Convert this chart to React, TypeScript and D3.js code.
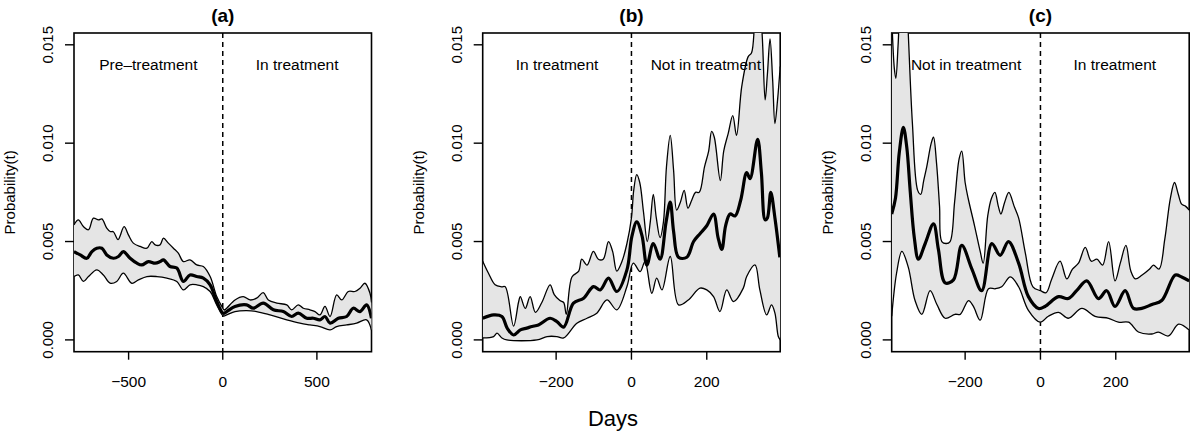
import React from 'react';
import * as d3 from 'd3';

type Pt = [number, number];

// ---------- data (day, probability) ----------
const aUpper: Pt[] = [
  [-790, 0.00585], [-767, 0.0061], [-740, 0.00576], [-713, 0.0056], [-687, 0.00619], [-660, 0.0061], [-642, 0.00615],
  [-616, 0.00568], [-598, 0.00551], [-581, 0.0055], [-556, 0.0051], [-524, 0.00576], [-501, 0.00534], [-475, 0.00492],
  [-439, 0.00475], [-403, 0.00466], [-377, 0.005], [-359, 0.00483], [-333, 0.00483], [-315, 0.00517], [-289, 0.00492],
  [-262, 0.00466], [-236, 0.00441], [-209, 0.00398], [-174, 0.00407], [-138, 0.00381], [-103, 0.00373], [-67, 0.00322],
  [-32, 0.0022], [-5, 0.0017], [8, 0.00152], [21, 0.00161], [65, 0.00203], [109, 0.0022], [145, 0.00203], [180, 0.00212],
  [215, 0.0024], [242, 0.00203], [287, 0.00187], [340, 0.00178], [366, 0.00153], [401, 0.00178], [428, 0.00161],
  [463, 0.00153], [490, 0.00144], [516, 0.00127], [543, 0.0017], [570, 0.00119], [605, 0.00229], [632, 0.00203],
  [667, 0.00246], [702, 0.00246], [729, 0.00263], [755, 0.00288], [782, 0.00237], [790, 0.0019],
];
const aMean: Pt[] = [
  [-790, 0.00449], [-757, 0.00432], [-722, 0.00415], [-695, 0.00449], [-669, 0.00466], [-642, 0.00466], [-616, 0.00432],
  [-581, 0.00415], [-554, 0.00424], [-528, 0.00449], [-492, 0.00415], [-456, 0.0039], [-430, 0.00381], [-395, 0.00398],
  [-359, 0.0039], [-333, 0.00398], [-315, 0.00407], [-280, 0.00373], [-244, 0.00365], [-209, 0.00297], [-174, 0.0033],
  [-138, 0.00322], [-103, 0.00314], [-67, 0.0028], [-32, 0.00195], [3, 0.00135], [21, 0.00144], [65, 0.0017],
  [127, 0.00178], [162, 0.00161], [215, 0.00187], [269, 0.00153], [322, 0.00144], [366, 0.00119], [401, 0.00136],
  [446, 0.0011], [481, 0.0011], [516, 0.00102], [543, 0.00119], [570, 0.00085], [614, 0.0011], [658, 0.00119],
  [693, 0.00161], [729, 0.00144], [764, 0.00178], [790, 0.0011],
];
const aLower: Pt[] = [
  [-790, 0.00322], [-767, 0.0033], [-740, 0.00297], [-713, 0.00322], [-669, 0.00356], [-634, 0.0033], [-598, 0.00288],
  [-563, 0.00297], [-528, 0.00339], [-483, 0.00288], [-448, 0.00305], [-403, 0.00322], [-350, 0.00322], [-297, 0.00314],
  [-244, 0.00297], [-209, 0.00254], [-174, 0.0028], [-138, 0.0028], [-103, 0.00271], [-67, 0.00246], [-32, 0.00178],
  [3, 0.00122], [21, 0.00127], [65, 0.00144], [127, 0.00149], [180, 0.00144], [251, 0.00127], [340, 0.00102],
  [410, 0.00085], [463, 0.00076], [516, 0.00068], [570, 0.00051], [605, 0.00068], [658, 0.00076], [711, 0.00085],
  [764, 0.00102], [790, 0.0005],
];

const bUpper: Pt[] = [
  [-395, 0.004], [-380, 0.0034], [-362, 0.0028], [-345, 0.0027], [-335, 0.0027], [-313, 0.0007], [-300, 0.0019],
  [-295, 0.0022], [-282, 0.0016], [-269, 0.0022], [-255, 0.0014], [-238, 0.0019], [-216, 0.0028], [-205, 0.0023],
  [-190, 0.002], [-180, 0.0019], [-173, 0.0013], [-158, 0.0032], [-140, 0.0035], [-132, 0.0041], [-118, 0.0038],
  [-101, 0.0045], [-88, 0.0041], [-75, 0.0041], [-61, 0.005], [-50, 0.0045], [-39, 0.0035], [-25, 0.004],
  [-12, 0.0049], [0, 0.0062], [6, 0.0076], [14, 0.0084], [22, 0.008], [32, 0.0065], [42, 0.005], [50, 0.006],
  [58, 0.0074], [66, 0.0062], [76, 0.0052], [85, 0.006], [93, 0.0088], [103, 0.0104], [112, 0.0086], [120, 0.0066],
  [130, 0.007], [140, 0.0076], [150, 0.0067], [160, 0.0071], [170, 0.0075], [180, 0.0075], [194, 0.0088],
  [205, 0.0096], [213, 0.0106], [220, 0.0103], [236, 0.0081], [245, 0.0096], [257, 0.0105], [269, 0.0114],
  [279, 0.0104], [293, 0.0129], [310, 0.0144], [319, 0.0146], [328, 0.0162], [337, 0.017], [346, 0.0158],
  [355, 0.0122], [361, 0.0135], [368, 0.0153], [375, 0.0132], [381, 0.011], [388, 0.0122], [395, 0.0139],
];
const bMean: Pt[] = [
  [-395, 0.0011], [-366, 0.00127], [-344, 0.00119], [-330, 0.0006], [-313, 0.00025], [-295, 0.00051], [-278, 0.0006],
  [-264, 0.00068], [-247, 0.00076], [-216, 0.0011], [-198, 0.00093], [-180, 0.00065], [-154, 0.00187], [-127, 0.00212],
  [-101, 0.00271], [-83, 0.00254], [-61, 0.00314], [-39, 0.00246], [-12, 0.00356], [1, 0.00525], [14, 0.006],
  [28, 0.0053], [41, 0.0038], [58, 0.0049], [76, 0.0041], [92, 0.006], [103, 0.007], [112, 0.0055], [125, 0.0042],
  [147, 0.0042], [165, 0.005], [182, 0.0054], [200, 0.0058], [218, 0.0064], [230, 0.0052], [240, 0.0046],
  [250, 0.0058], [262, 0.0064], [275, 0.0063], [290, 0.0071], [306, 0.0085], [315, 0.0082], [335, 0.0102],
  [345, 0.0085], [355, 0.0061], [361, 0.0062], [370, 0.0075], [381, 0.0062], [394, 0.0042],
];
const bLower: Pt[] = [
  [-395, 0.0001], [-366, 0.00017], [-357, 0.00034], [-344, 0.0001], [-331, 0.0], [-251, 0.0], [-224, 0.00017],
  [-198, 0.00017], [-180, 0.0001], [-145, 0.00085], [-118, 0.0011], [-92, 0.00136], [-65, 0.00203], [-39, 0.00153],
  [-12, 0.00271], [5, 0.0039], [23, 0.00347], [36, 0.00398], [54, 0.00237], [67, 0.00314], [81, 0.00254],
  [103, 0.00424], [125, 0.00178], [151, 0.00203], [182, 0.00263], [200, 0.00254], [218, 0.0022], [235, 0.00144],
  [253, 0.00254], [271, 0.00195], [297, 0.00263], [306, 0.00322], [328, 0.00381], [341, 0.00254], [359, 0.00127],
  [372, 0.00178], [381, 0.00136], [390, 0.00017], [395, 0.0],
];

const cUpper: Pt[] = [
  [-395, 0.0165], [-388, 0.0138], [-384, 0.0133], [-378, 0.015], [-370, 0.018], [-360, 0.019], [-352, 0.016],
  [-340, 0.011], [-326, 0.0076], [-318, 0.0074], [-310, 0.0081], [-302, 0.0088], [-290, 0.01], [-284, 0.0103],
  [-276, 0.009], [-268, 0.0068], [-262, 0.005], [-250, 0.0049], [-240, 0.005], [-228, 0.007], [-216, 0.0092],
  [-209, 0.0096], [-200, 0.008], [-192, 0.0072], [-175, 0.0058], [-160, 0.0045], [-152, 0.0039], [-140, 0.0063],
  [-130, 0.0072], [-121, 0.0075], [-112, 0.0068], [-105, 0.0064], [-95, 0.007], [-84, 0.0075], [-70, 0.0068],
  [-58, 0.0062], [-40, 0.0044], [-20, 0.0027], [0, 0.0025], [15, 0.0024], [30, 0.0031], [52, 0.004], [70, 0.0031],
  [85, 0.0036], [101, 0.0039], [119, 0.0047], [135, 0.004], [150, 0.0041], [165, 0.0038], [181, 0.005],
  [198, 0.003], [212, 0.0039], [227, 0.0048], [240, 0.0035], [252, 0.0031], [270, 0.0033], [290, 0.0036],
  [300, 0.0038], [315, 0.0036], [330, 0.0051], [345, 0.0072], [356, 0.008], [366, 0.0074], [375, 0.0069],
  [385, 0.0068], [395, 0.0066],
];
const cMean: Pt[] = [
  [-395, 0.0064], [-385, 0.0072], [-375, 0.0095], [-364, 0.0108], [-355, 0.0098], [-346, 0.0076], [-335, 0.0052],
  [-324, 0.0041], [-306, 0.0049], [-284, 0.0059], [-271, 0.0046], [-253, 0.0029], [-231, 0.00305], [-209, 0.0048],
  [-182, 0.0036], [-156, 0.0025], [-129, 0.0049], [-107, 0.0043], [-85, 0.005], [-58, 0.0039], [-32, 0.0022],
  [-5, 0.0016], [12, 0.0017], [48, 0.0022], [74, 0.0021], [96, 0.0025], [123, 0.003], [154, 0.0021], [176, 0.0025],
  [198, 0.0017], [225, 0.0025], [247, 0.0016], [269, 0.0016], [296, 0.0018], [322, 0.002], [358, 0.0033],
  [375, 0.0032], [395, 0.003],
];
const cLower: Pt[] = [
  [-395, 0.0012], [-382, 0.0034], [-368, 0.0045], [-351, 0.0037], [-333, 0.002], [-315, 0.0013], [-293, 0.0025],
  [-275, 0.0018], [-253, 0.0011], [-227, 0.0013], [-213, 0.0013], [-191, 0.002], [-178, 0.0017], [-160, 0.001],
  [-138, 0.0026], [-120, 0.0026], [-103, 0.0027], [-80, 0.0032], [-58, 0.0027], [-32, 0.0015], [-1, 0.0009],
  [21, 0.0012], [48, 0.0014], [74, 0.0011], [110, 0.0016], [145, 0.0012], [181, 0.0011], [207, 0.0009],
  [234, 0.0009], [260, 0.0004], [296, 0.0003], [313, 0.0004], [340, 0.0002], [367, 0.0008], [395, 0.0005],
];

const panelTitles = ['(a)', '(b)', '(c)'];
const leftLabels = ['Pre\u2013treatment', 'In treatment', 'Not in treatment'];
const rightLabels = ['In treatment', 'Not in treatment', 'In treatment'];
const xDomains: [number, number][] = [[-790, 790], [-395, 395], [-395, 395]];
const xTicks = [[-500, 0, 500], [-200, 0, 200], [-200, 0, 200]];
const yTicks = [0, 0.005, 0.01, 0.015];
const yDomain: [number, number] = [-0.0006, 0.0156];
const uppers = [aUpper, bUpper, cUpper];
const means = [aMean, bMean, cMean];
const lowers = [aLower, bLower, cLower];
const yLabel = 'Probability(t)';
const xLabel = 'Days';

// ---------- layout ----------
const W = 1200;
const H = 437;
const panelLefts = [74, 482.7, 891.7];
const PW = 297.5;
const TOP = 33;
const BOTTOM = 351.7;
const FONT = "'Liberation Sans', Arial, Helvetica, sans-serif";
const BAND = '#e5e5e5';

function Panel({ i }: { i: number }) {
  const left = panelLefts[i];
  const x = d3.scaleLinear().domain(xDomains[i]).range([left, left + PW]);
  const y = d3.scaleLinear().domain(yDomain).range([BOTTOM, TOP]);
  const line = d3
    .line<Pt>()
    .x((d) => x(d[0]))
    .y((d) => y(d[1]))
    .curve(d3.curveCatmullRom.alpha(0.5));
  const bandPath = (line([...uppers[i], ...lowers[i].slice().reverse()]) || '') + 'Z';
  const clipId = `clip-${i}`;
  const cx = left + PW / 2;
  const zero = x(0);
  const fmtX = d3.format('d');
  const fmtY = d3.format('.3f');
  return (
    <g>
      <defs>
        <clipPath id={clipId}>
          <rect x={left} y={TOP} width={PW} height={BOTTOM - TOP} />
        </clipPath>
      </defs>
      <text x={cx} y={22} textAnchor="middle" fontWeight="bold" fontSize={19} fontFamily={FONT}>
        {panelTitles[i]}
      </text>
      <line x1={zero} x2={zero} y1={TOP} y2={BOTTOM} stroke="#000" strokeWidth={1.5} strokeDasharray="5,4" />
      <rect x={left} y={TOP} width={PW} height={BOTTOM - TOP} fill="none" stroke="#000" strokeWidth={1.6} />
      <g clipPath={`url(#${clipId})`}>
        <path d={bandPath} fill={BAND} stroke="none" />
        <path d={line(uppers[i]) || ''} fill="none" stroke="#000" strokeWidth={1.3} />
        <path d={line(lowers[i]) || ''} fill="none" stroke="#000" strokeWidth={1.3} />
        <path d={line(means[i]) || ''} fill="none" stroke="#000" strokeWidth={3.2} strokeLinejoin="round" />
      </g>
      <text x={(left + zero) / 2} y={70} textAnchor="middle" fontSize={15.5} fontFamily={FONT}>
        {leftLabels[i]}
      </text>
      <text x={(zero + left + PW) / 2} y={70} textAnchor="middle" fontSize={15.5} fontFamily={FONT}>
        {rightLabels[i]}
      </text>
      {xTicks[i].map((t) => (
        <g key={`x${t}`}>
          <line x1={x(t)} x2={x(t)} y1={BOTTOM} y2={BOTTOM + 8} stroke="#000" strokeWidth={1.4} />
          <text x={x(t)} y={386.5} textAnchor="middle" fontSize={15.5} fontFamily={FONT}>
            {fmtX(t)}
          </text>
        </g>
      ))}
      {yTicks.map((t) => (
        <g key={`y${t}`}>
          <line x1={left - 9} x2={left} y1={y(t)} y2={y(t)} stroke="#000" strokeWidth={1.4} />
          <text
            transform={`translate(${left - 21},${y(t)}) rotate(-90)`}
            textAnchor="middle"
            fontSize={15}
            fontFamily={FONT}
          >
            {fmtY(t)}
          </text>
        </g>
      ))}
      <text
        transform={`translate(${left - 59},${(TOP + BOTTOM) / 2}) rotate(-90)`}
        textAnchor="middle"
        fontSize={15}
        fontFamily={FONT}
      >
        {yLabel}
      </text>
    </g>
  );
}

export default function App() {
  return (
    <svg
      width={W}
      height={H}
      viewBox={`0 0 ${W} ${H}`}
      style={{ position: 'absolute', left: 0, top: 0, background: '#fff' }}
    >
      <rect x={0} y={0} width={W} height={H} fill="#fff" />
      {[0, 1, 2].map((i) => (
        <Panel key={i} i={i} />
      ))}
      <text x={613} y={426} textAnchor="middle" fontSize={22} fontFamily={FONT}>
        {xLabel}
      </text>
    </svg>
  );
}
